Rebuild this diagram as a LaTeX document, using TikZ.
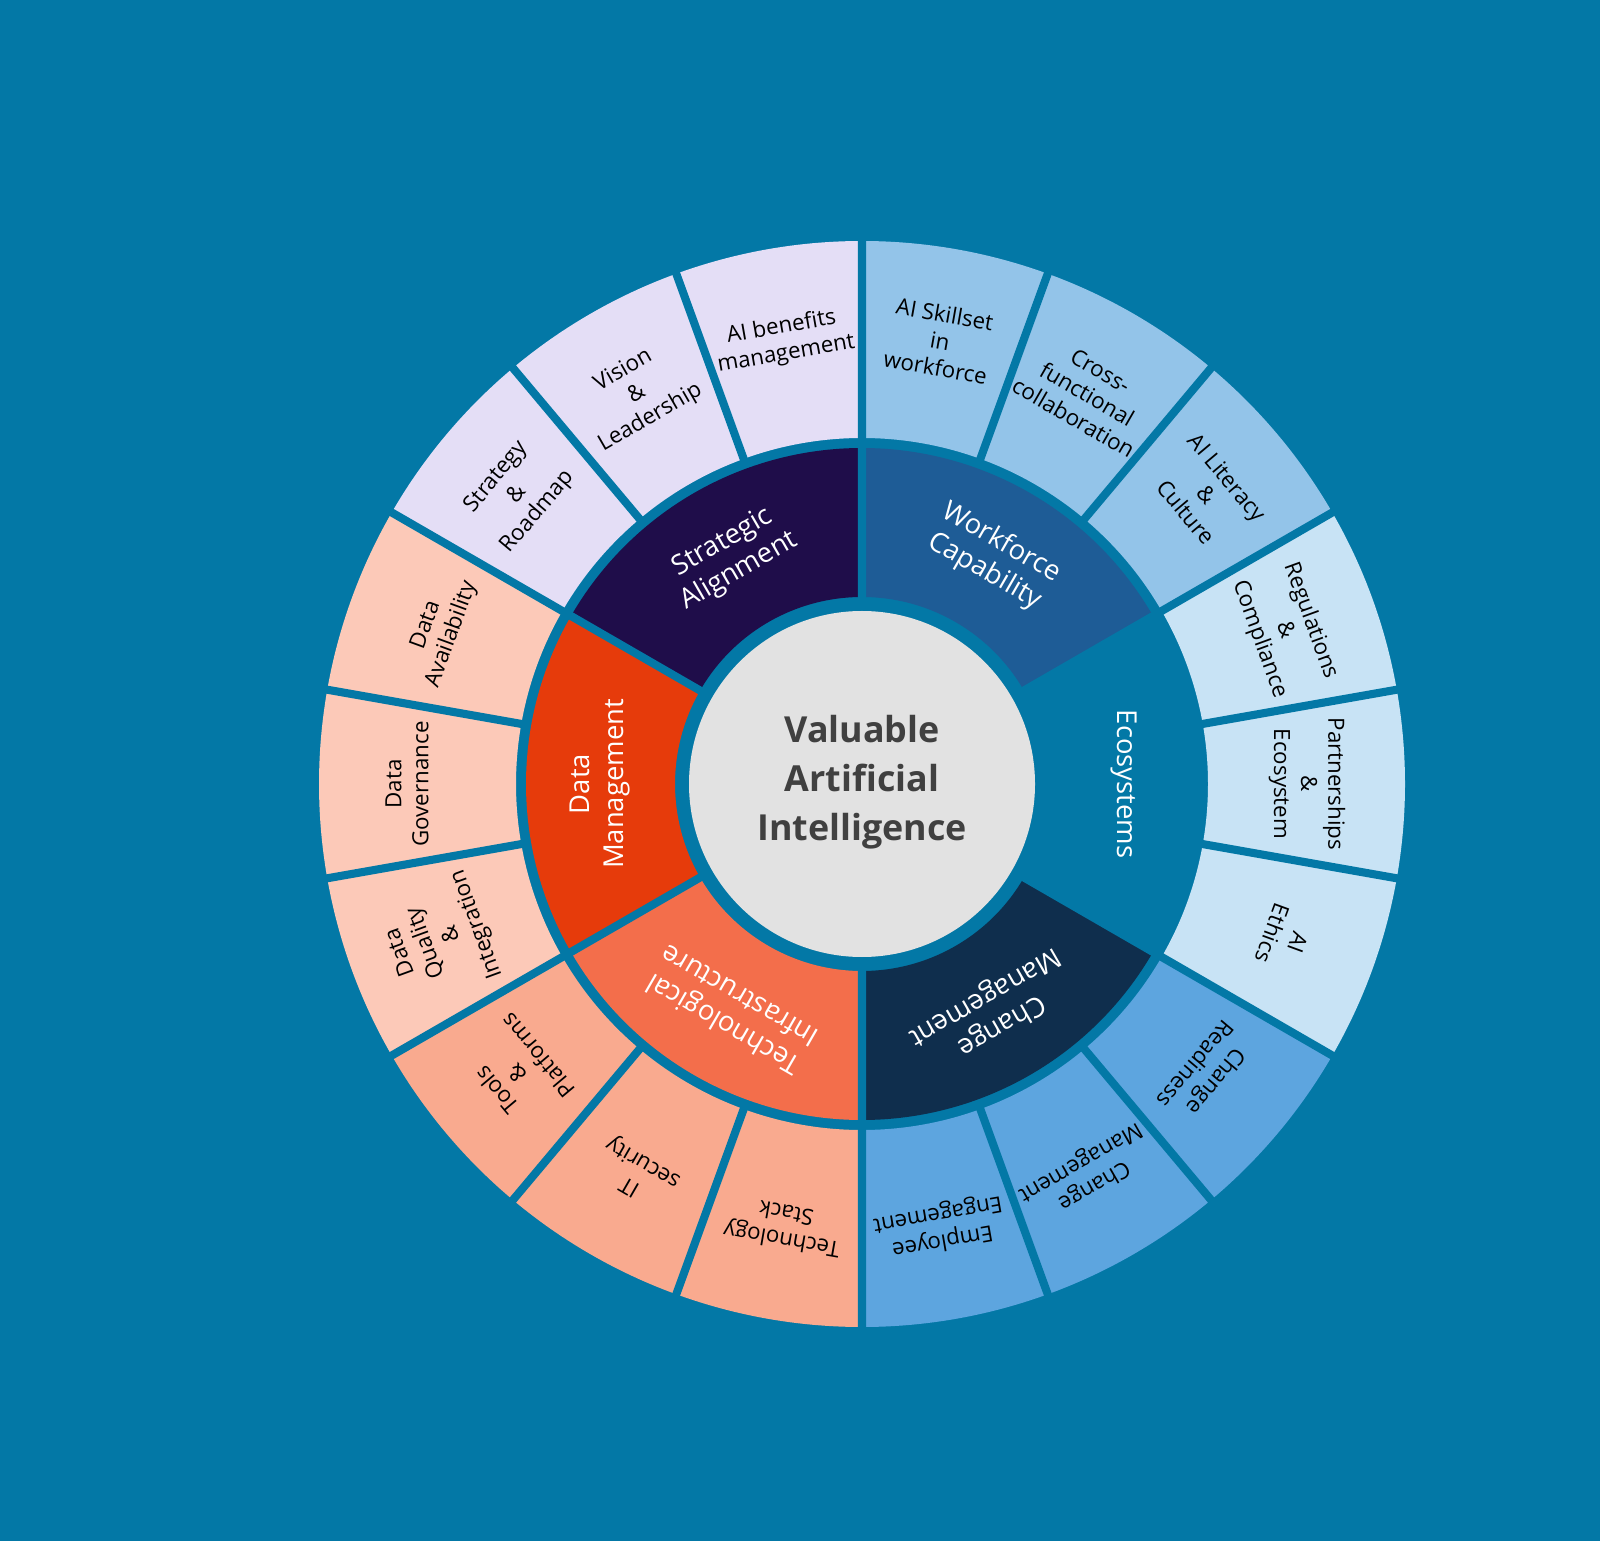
\documentclass[tikz,border=0pt]{standalone}
\usepackage{fontspec}
\setmainfont{Open Sans}

\definecolor{bgblue}{HTML}{0378A6}
\definecolor{lavender}{HTML}{E4DEF6}
\definecolor{peachlt}{HTML}{FCC9B8}
\definecolor{salmon}{HTML}{F9AA8F}
\definecolor{midblue}{HTML}{5DA5DF}
\definecolor{paleblue}{HTML}{C8E3F5}
\definecolor{skyblue}{HTML}{93C4E9}
\definecolor{stratcol}{HTML}{1F0D4A}
\definecolor{workcol}{HTML}{1E5C96}
\definecolor{changecol}{HTML}{0F2E4D}
\definecolor{techcol}{HTML}{F36E4B}
\definecolor{datacol}{HTML}{E63B0B}
\definecolor{coregrey}{HTML}{E2E2E2}
\definecolor{coretext}{HTML}{404040}

% annular sector: start, end, inner radius, outer radius, colour
\newcommand{\ring}[5]{\fill[#5] (#1:#3) arc[start angle=#1, end angle=#2, radius=#3] -- (#2:#4) arc[start angle=#2, end angle=#1, radius=#4] -- cycle;}

\tikzset{
  tiletext/.style={align=center, font=\fontsize{6.35}{7.7}\selectfont, text=black, inner sep=0pt},
  pillartext/.style={align=center, font=\fontsize{7.8}{9.4}\selectfont, text=white, inner sep=0pt},
  sepline/.style={draw=bgblue, line width=2.3pt},
}

\begin{document}
\begin{tikzpicture}
		\fill[bgblue] (0,0) rectangle (16,15.41);
		\useasboundingbox (0,0) rectangle (16,15.41);
		\begin{scope}[shift={(8.62,7.57)}]
		% outer ring
		\ring{90}{150}{3.46}{5.43}{lavender}
		\ring{150}{210}{3.46}{5.43}{peachlt}
		\ring{210}{270}{3.46}{5.43}{salmon}
		\ring{270}{330}{3.46}{5.43}{midblue}
		\ring{-30}{30}{3.46}{5.43}{paleblue}
		\ring{30}{90}{3.46}{5.43}{skyblue}
		% inner ring
		\ring{90}{150}{1.87}{3.36}{stratcol}
		\ring{150}{210}{1.87}{3.36}{datacol}
		\ring{210}{270}{1.87}{3.36}{techcol}
		\ring{270}{330}{1.87}{3.36}{changecol}
		\ring{30}{90}{1.87}{3.36}{workcol}
		\fill[coregrey] (0,0) circle (1.73);
		% gaps
		\draw[sepline] (10:3.4) -- (10:5.5) (30:1.8) -- (30:5.5) (50:3.4) -- (50:5.5)
		(70:3.4) -- (70:5.5) (90:1.8) -- (90:5.5) (110:3.4) -- (110:5.5)
		(130:3.4) -- (130:5.5) (150:1.8) -- (150:5.5) (170:3.4) -- (170:5.5)
		(190:3.4) -- (190:5.5) (210:1.8) -- (210:5.5) (230:3.4) -- (230:5.5)
		(250:3.4) -- (250:5.5) (270:1.8) -- (270:5.5) (290:3.4) -- (290:5.5)
		(310:3.4) -- (310:5.5) (330:1.8) -- (330:5.5) (350:3.4) -- (350:5.5);
		
		\node[font=\bfseries\fontsize{10.2}{14}\selectfont, text=coretext, align=center] (core) at (0,0.02) {Valuable\\Artificial\\Intelligence};
		
		\node[pillartext, rotate=30] (strategic) at (120:2.62) {Strategic\\Alignment};
		\node[pillartext, rotate=90] (datamgmt) at (180:2.62) {Data\\Management};
		\node[pillartext, rotate=150] (techinfra) at (240:2.62) {Technological\\Infrastructure};
		\node[pillartext, rotate=210] (changemgmt) at (300:2.62) {Change\\Management};
		\node[pillartext, rotate=-90] (ecosys) at (0:2.62) {Ecosystems};
		\node[pillartext, rotate=-30] (workforce) at (60:2.62) {Workforce\\Capability};
		
		\node[tiletext, rotate=10] (benefits) at (100:4.5) {AI benefits\\management};
		\node[tiletext, rotate=30] (vision) at (120:4.5) {Vision\\\&\\Leadership};
		\node[tiletext, rotate=50] (roadmap) at (140:4.5) {Strategy\\\&\\Roadmap};
		\node[tiletext, rotate=70] (avail) at (160:4.5) {Data\\Availability};
		\node[tiletext, rotate=90] (govern) at (180:4.55) {Data\\Governance};
		\node[tiletext, rotate=110] (quality) at (200:4.5) {Data\\Quality\\\&\\Integration};
		\node[tiletext, rotate=130] (tools) at (220:4.5) {Tools\\\&\\Platforms};
		\node[tiletext, rotate=150] (itsec) at (240:4.5) {IT\\security};
		\node[tiletext, rotate=170] (stack) at (260:4.5) {Technology\\Stack};
		\node[tiletext, rotate=190] (engage) at (280:4.5) {Employee\\Engagement};
		\node[tiletext, rotate=210] (changetile) at (300:4.5) {Change\\Management};
		\node[tiletext, rotate=230] (readiness) at (320:4.5) {Change\\Readiness};
		\node[tiletext, rotate=250] (ethics) at (340:4.5) {AI\\Ethics};
		\node[tiletext, rotate=-90] (partners) at (0:4.45) {Partnerships\\\&\\Ecosystem};
		\node[tiletext, rotate=-70] (regs) at (20:4.5) {Regulations\\\&\\Compliance};
		\node[tiletext, rotate=-50] (literacy) at (40:4.5) {AI Literacy\\\&\\Culture};
		\node[tiletext, rotate=-30] (crossfn) at (60:4.5) {Cross-\\functional\\collaboration};
		\node[tiletext, rotate=-10] (skillset) at (80:4.5) {AI Skillset\\in\\workforce};
		\end{scope}
\end{tikzpicture}
\end{document}
